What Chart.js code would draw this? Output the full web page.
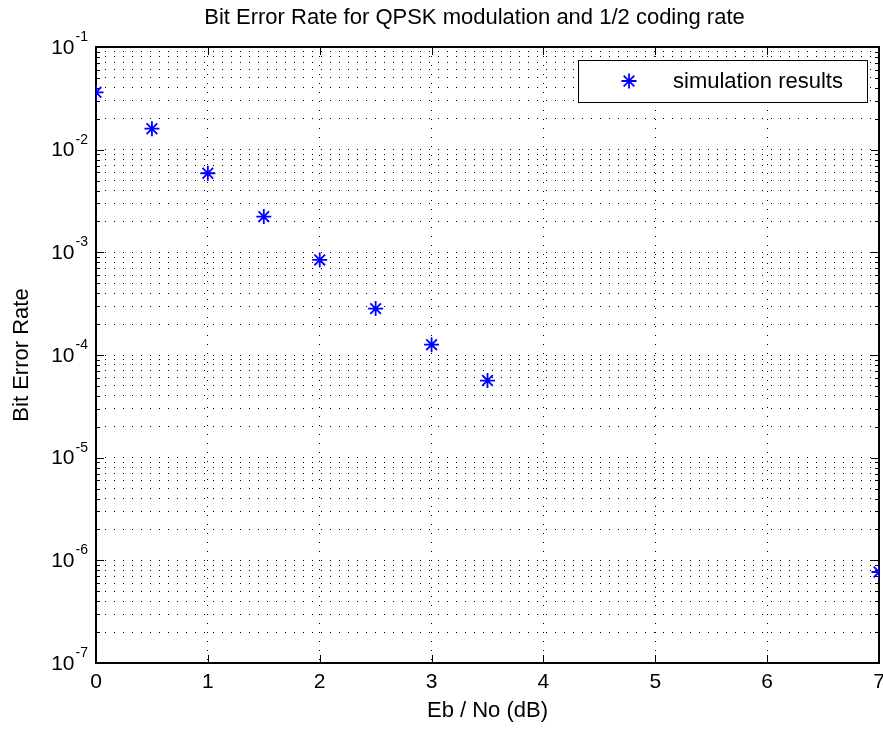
<!DOCTYPE html>
<html><head><meta charset="utf-8">
<script src="https://cdn.jsdelivr.net/npm/chart.js@4.4.0/dist/chart.umd.min.js"></script>
<style>html,body{margin:0;padding:0;background:#fff}#wrap{width:883px;height:731px}</style>
</head><body><div id="wrap"><canvas id="c" width="883" height="731"></canvas></div>
<script>
const ebNo = [0, 0.5, 1, 1.5, 2, 2.5, 3, 3.5, 4, 4.5, 5, 5.5, 6, 6.5, 7];
const ber = [0.0362, 0.0160, 0.00589, 0.00223, 0.000843, 0.000283, 0.000126, 0.0000564, null, null, null, null, null, null, 7.7e-7];
const xTicks = [0, 1, 2, 3, 4, 5, 6, 7];
const yExponents = [-7, -6, -5, -4, -3, -2, -1];
const yMantissas = [1, 2, 3, 4, 5, 6, 7, 8, 9];
const seriesLabel = 'simulation results';
const titleText = 'Bit Error Rate for QPSK modulation and 1/2 coding rate';
const xTitle = 'Eb / No (dB)';
const yTitle = 'Bit Error Rate';

const FONT = '"Liberation Sans", Arial, sans-serif';
const BLUE = '#0000ff';

const yTickValues = [];
yExponents.forEach((e, i) => {
  if (i === yExponents.length - 1) { yTickValues.push(Math.pow(10, e)); return; }
  yMantissas.forEach(m => yTickValues.push(parseFloat((m * Math.pow(10, e)).toPrecision(6))));
});

const framePlugin = {
  id: 'frame',
  beforeDatasetsDraw(chart) {
    const {ctx, chartArea: a, scales} = chart;
    ctx.save();
    ctx.strokeStyle = '#000';
    ctx.lineWidth = 1;
    ctx.beginPath();
    scales.x.ticks.forEach(t => {
      const px = Math.round(scales.x.getPixelForValue(t.value)) + 0.5;
      ctx.moveTo(px, a.bottom); ctx.lineTo(px, a.bottom - 8);
      ctx.moveTo(px, a.top); ctx.lineTo(px, a.top + 8);
    });
    scales.y.ticks.forEach(t => {
      const py = Math.round(scales.y.getPixelForValue(t.value)) + 0.5;
      const mant = t.value / Math.pow(10, Math.floor(Math.log10(t.value) + 1e-9));
      const len = Math.abs(mant - 1) < 1e-6 ? 8 : 4;
      ctx.moveTo(a.left, py); ctx.lineTo(a.left + len, py);
      ctx.moveTo(a.right, py); ctx.lineTo(a.right - len, py);
    });
    ctx.stroke();
    ctx.lineWidth = 2;
    ctx.strokeRect(Math.round(a.left), Math.round(a.top), Math.round(a.right - a.left), Math.round(a.bottom - a.top));
    ctx.fillStyle = '#000';
    const right = a.left - 8;
    yExponents.forEach(e => {
      const y = scales.y.getPixelForValue(Math.pow(10, e));
      const expStr = String(e);
      ctx.font = '14px ' + FONT;
      const wE = ctx.measureText(expStr).width;
      ctx.font = '21px ' + FONT;
      const w10 = ctx.measureText('10').width;
      ctx.textAlign = 'left';
      ctx.textBaseline = 'middle';
      ctx.fillText('10', right - wE - w10 - 1, y + 1);
      ctx.font = '14px ' + FONT;
      ctx.textBaseline = 'alphabetic';
      ctx.fillText(expStr, right - wE, y - 6);
    });
    // title
    ctx.font = '22px ' + FONT;
    ctx.textAlign = 'center';
    ctx.textBaseline = 'middle';
    ctx.fillText(titleText, (a.left + a.right) / 2 - 13, 18);
    ctx.restore();
  },
  afterDraw(chart) {
    const {ctx} = chart;
    const ds = chart.data.datasets[0];
    ctx.save();
    ctx.fillStyle = '#fff';
    ctx.strokeStyle = '#000';
    ctx.lineWidth = 1;
    ctx.fillRect(578.5, 60.5, 289, 42);
    ctx.strokeRect(578.5, 60.5, 289, 42);
    ctx.strokeStyle = BLUE;
    ctx.fillStyle = BLUE;
    ctx.lineWidth = ds.borderWidth;
    if (Chart.helpers && Chart.helpers.drawPoint) {
      Chart.helpers.drawPoint(ctx, {pointStyle: 'star', radius: ds.radius, rotation: 0, borderWidth: ds.borderWidth}, 629, 81);
    }
    ctx.fillStyle = '#000';
    ctx.font = '22px ' + FONT;
    ctx.textAlign = 'left';
    ctx.textBaseline = 'middle';
    ctx.fillText(ds.label, 673, 82);
    ctx.restore();
  }
};

new Chart(document.getElementById('c'), {
  type: 'scatter',
  data: {
    datasets: [{
      label: seriesLabel,
      data: ebNo.map((x, i) => ({x: x, y: ber[i]})),
      pointStyle: 'star',
      radius: 7.5,
      borderColor: BLUE,
      backgroundColor: BLUE,
      borderWidth: 1.8,
      showLine: false,
      clip: 0
    }]
  },
  options: {
    responsive: false,
    animation: false,
    events: [],
    layout: {autoPadding: false, padding: {left: 0, right: 4, top: 47, bottom: 0}},
    plugins: {
      legend: {display: false},
      tooltip: {enabled: false},
      title: {display: false}
    },
    scales: {
      x: {
        type: 'linear', position: 'bottom', min: 0, max: 7,
        afterBuildTicks: s => { s.ticks = xTicks.map(v => ({value: v})); },
        ticks: {color: '#000', font: {family: FONT, size: 21}, padding: 7, autoSkip: false, maxRotation: 0, callback: v => String(v)},
        grid: {color: '#000', lineWidth: 1, drawTicks: false},
        border: {display: false, dash: [1, 8]},
        title: {display: true, text: xTitle, color: '#000', font: {family: FONT, size: 22}, padding: {top: 0, bottom: 7}},
        afterFit: s => { s.height = 68; s.paddingLeft = 0; s.paddingRight = 0; }
      },
      y: {
        type: 'logarithmic', position: 'left', min: 1e-7, max: 1e-1,
        afterBuildTicks: s => { s.ticks = yTickValues.map(v => ({value: v})); },
        ticks: {display: false, autoSkip: false},
        grid: {color: '#000', lineWidth: 1, drawTicks: false},
        border: {display: false, dash: [1, 8]},
        title: {display: true, text: yTitle, color: '#000', font: {family: FONT, size: 22}, padding: {top: 9, bottom: 0}},
        afterFit: s => { s.width = 96; s.paddingTop = 0; s.paddingBottom = 0; }
      }
    }
  },
  plugins: [framePlugin]
});
</script>
</body></html>
